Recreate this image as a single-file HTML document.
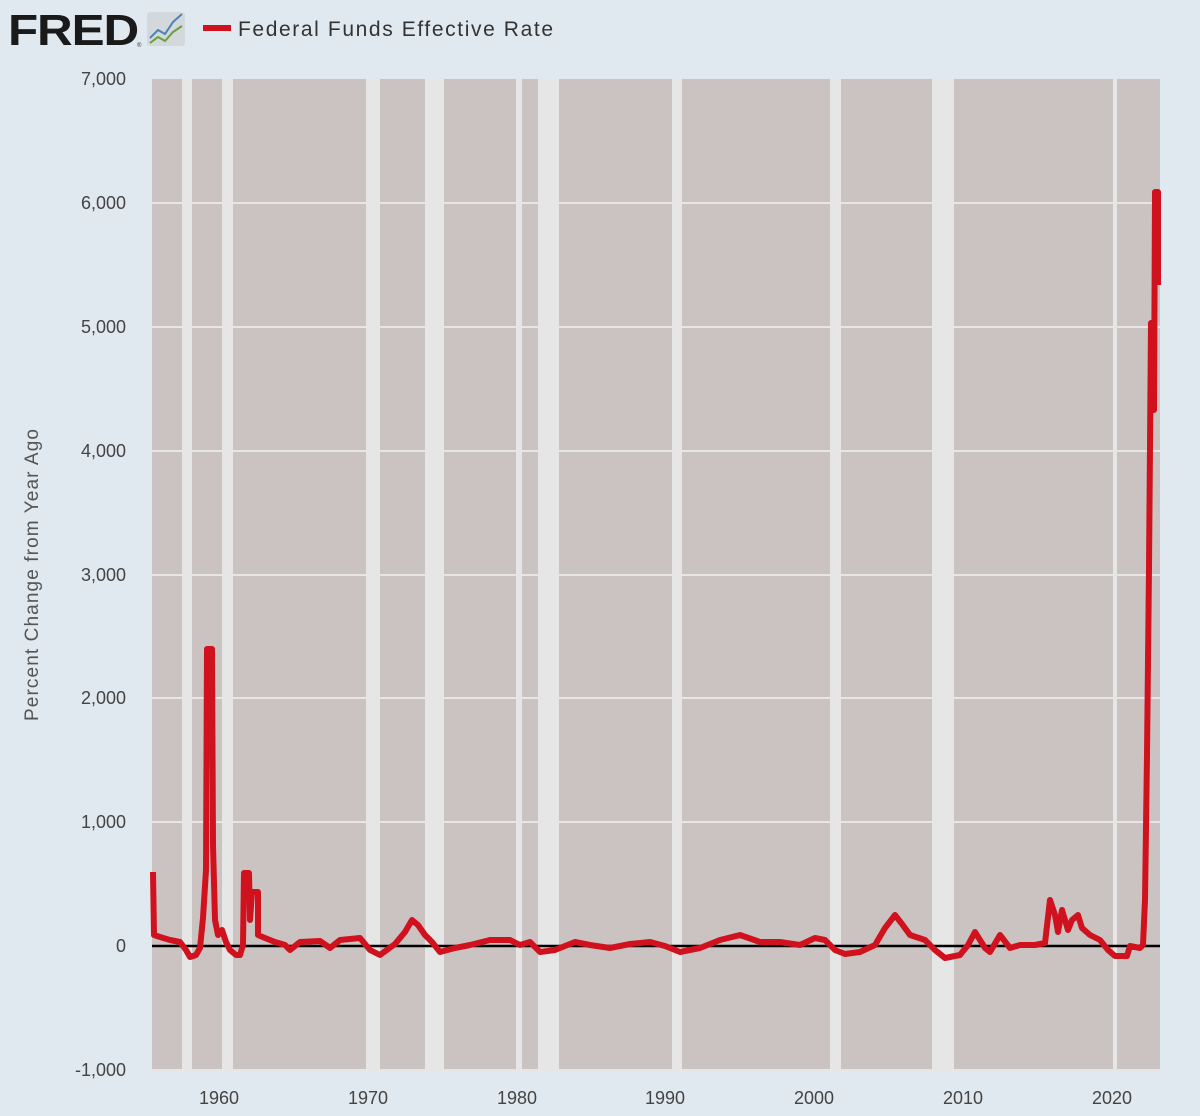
<!DOCTYPE html>
<html><head><style>
body{margin:0;background:#e1e9f0;width:1200px;height:1116px;overflow:hidden;font-family:"Liberation Sans",sans-serif;}
</style></head><body>
<svg width="1200" height="1116" xmlns="http://www.w3.org/2000/svg" style="position:absolute;left:0;top:0">
<rect width="1200" height="1116" fill="#e1e9f0"/>
<text x="8" y="45" font-family="Liberation Sans" font-weight="bold" font-size="44" fill="#1a1a1a" letter-spacing="-1" textLength="130" lengthAdjust="spacingAndGlyphs">FRED</text>
<text x="137" y="47" font-size="6" fill="#333">®</text>
<rect x="147" y="12" width="38" height="34" rx="3" fill="#d3d8dc"/>
<polyline points="150,38 158,30 165,34 173,22 182,14" fill="none" stroke="#4d83b3" stroke-width="2"/>
<polyline points="150,43 158,37 165,41 173,32 182,26" fill="none" stroke="#6aa03a" stroke-width="2"/>
<rect x="203" y="25" width="28" height="6" fill="#d0121e"/>
<text x="238" y="36" font-size="21" fill="#333" textLength="315" lengthAdjust="spacing">Federal Funds Effective Rate</text>
<rect x="152" y="79" width="1008" height="991" fill="#cbc3c2"/>
<g fill="#e6e6e6">
<rect x="182" y="79" width="10" height="991"/><rect x="222" y="79" width="11" height="991"/>
<rect x="366" y="79" width="14" height="991"/><rect x="425" y="79" width="19" height="991"/>
<rect x="516" y="79" width="6" height="991"/><rect x="538" y="79" width="21" height="991"/>
<rect x="672" y="79" width="10" height="991"/><rect x="830" y="79" width="11" height="991"/>
<rect x="932" y="79" width="22" height="991"/><rect x="1113" y="79" width="4" height="991"/>
</g>
<g stroke="#e6e6e6" stroke-width="2">
<line x1="152" x2="1160" y1="203" y2="203"/><line x1="152" x2="1160" y1="327" y2="327"/>
<line x1="152" x2="1160" y1="451" y2="451"/><line x1="152" x2="1160" y1="575" y2="575"/>
<line x1="152" x2="1160" y1="698" y2="698"/><line x1="152" x2="1160" y1="822" y2="822"/>
<line x1="152" x2="1160" y1="1070" y2="1070"/>
</g>
<g font-size="18" fill="#444" text-anchor="end">
<text x="126" y="85">7,000</text><text x="126" y="209">6,000</text><text x="126" y="333">5,000</text>
<text x="126" y="457">4,000</text><text x="126" y="581">3,000</text><text x="126" y="704">2,000</text>
<text x="126" y="828">1,000</text><text x="126" y="952">0</text><text x="126" y="1076">-1,000</text>
</g>
<g font-size="18" fill="#444" text-anchor="middle">
<text x="219" y="1104">1960</text><text x="368" y="1104">1970</text><text x="517" y="1104">1980</text>
<text x="665" y="1104">1990</text><text x="814" y="1104">2000</text><text x="963" y="1104">2010</text><text x="1112" y="1104">2020</text>
</g>
<text transform="translate(38,575) rotate(-90)" font-size="19" fill="#555" text-anchor="middle" textLength="292" lengthAdjust="spacing">Percent Change from Year Ago</text>
<line x1="152" x2="1160" y1="946" y2="946" stroke="#000" stroke-width="2.5"/>
<polyline fill="none" stroke="#d0121e" stroke-width="6" stroke-linejoin="round" points="
153,872 154,935 160,937 170,940 180,942 186,950 190,957 196,955 200,948 203,918 206,870 207,649 212,649 213,845 215,920 218,935 222,930 226,942 230,950 236,955 240,955 243,945 244,873 249,873 250,920 252,892 258,892 258,935 265,938 275,942 285,945 290,950 300,942 320,941 330,948 340,940 360,938 370,950 380,955 395,944 405,932 412,920 418,925 425,935 432,942 440,952 455,948 470,945 490,940 510,940 520,945 530,942 540,952 555,950 575,942 590,945 610,948 630,944 650,942 665,946 680,952 700,948 720,940 740,935 760,942 780,942 800,945 815,938 825,940 835,950 845,954 860,952 875,945 885,928 895,915 902,924 910,935 925,940 935,950 945,958 960,955 968,945 975,932 985,948 990,952 1000,935 1010,948 1020,945 1035,945 1045,943 1050,900 1055,915 1058,932 1062,910 1068,930 1072,920 1078,915 1082,928 1090,935 1100,940 1108,950 1115,956 1127,956 1130,946 1140,948 1143,945 1145,900 1147,755 1149,568 1151,323 1153,323 1154,410 1155,192 1158,192 1158,285"/>
</svg>
</body></html>
